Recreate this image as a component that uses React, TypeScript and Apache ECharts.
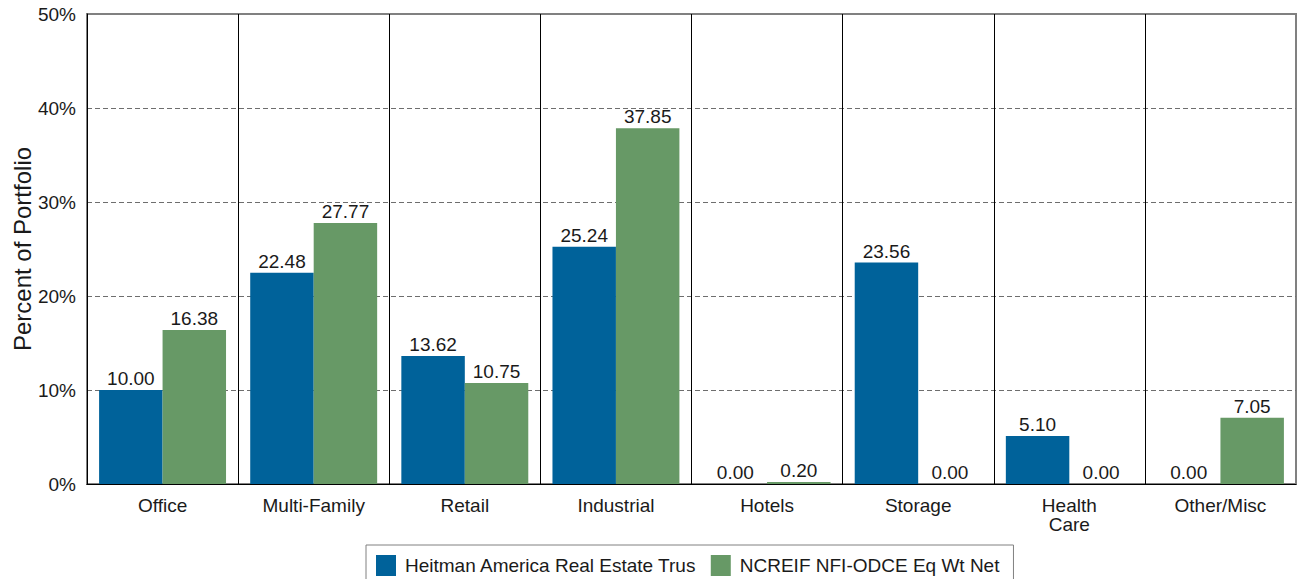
import React, { useEffect, useRef } from "react";
import * as echarts from "echarts";

const categories = ["Office", "Multi-Family", "Retail", "Industrial", "Hotels", "Storage", "Health Care", "Other/Misc"];
const heitmanName = "Heitman America Real Estate Trus";
const ncreifName = "NCREIF NFI-ODCE Eq Wt Net";
const heitmanValues = [10.0, 22.48, 13.62, 25.24, 0.0, 23.56, 5.1, 0.0];
const ncreifValues = [16.38, 27.77, 10.75, 37.85, 0.2, 0.0, 0.0, 7.05];
const yTicks = { min: 0, max: 50, interval: 10 };

const FONT = "'Liberation Sans', Arial, Helvetica, sans-serif";
const TEXT = "#1a1a1a";

export default function App() {
  const ref = useRef<HTMLDivElement>(null);
  useEffect(() => {
    if (!ref.current) return;
    const chart = echarts.init(ref.current, null, { renderer: "svg" });
    const label = {
      show: true,
      position: "top",
      distance: 2,
      color: TEXT,
      fontSize: 19,
      fontFamily: FONT,
      formatter: (p: any) => Number(p.value).toFixed(2),
    };
    const sepColors = categories.map(() => "#000000").concat(["#808080"]);
    chart.setOption({
      animation: false,
      backgroundColor: "#ffffff",
      textStyle: { fontFamily: FONT, color: TEXT },
      grid: {
        left: 87,
        top: 14,
        width: 1209,
        height: 470,
        show: true,
        containLabel: false,
        outerBoundsMode: "none",
        borderColor: "#808080",
        borderWidth: 2,
        backgroundColor: "transparent",
      },
      legend: {
        left: 366,
        top: 545,
        padding: [10, 14, 10, 10],
        itemWidth: 20,
        itemHeight: 21,
        itemGap: 14,
        borderColor: "#808080",
        borderWidth: 1,
        icon: "rect",
        textStyle: { fontSize: 19, color: TEXT, fontFamily: FONT, padding: [0, 0, 0, 4] },
        data: [heitmanName, ncreifName],
      },
      xAxis: {
        type: "category",
        data: categories,
        axisLine: { show: true, lineStyle: { color: "#000000", width: 1 } },
        axisTick: { show: false },
        splitLine: { show: true, interval: 0, lineStyle: { color: sepColors, width: 1 } },
        axisLabel: {
          interval: 0,
          margin: 12,
          fontSize: 19,
          lineHeight: 19,
          color: TEXT,
          fontFamily: FONT,
          formatter: (v: string) => v.replace(" ", "\n"),
        },
      },
      yAxis: {
        type: "value",
        min: yTicks.min,
        max: yTicks.max,
        interval: yTicks.interval,
        name: "Percent of Portfolio",
        nameLocation: "middle",
        nameGap: 53,
        nameMoveOverlap: false,
        nameTextStyle: { fontSize: 24, color: TEXT, fontFamily: FONT },
        axisLine: { show: true, lineStyle: { color: "#000000", width: 1 } },
        axisTick: { show: false },
        axisLabel: { formatter: "{value}%", fontSize: 19, color: TEXT, fontFamily: FONT, margin: 11 },
        splitLine: {
          show: true,
          showMinLine: false,
          showMaxLine: false,
          lineStyle: { color: "#6e6e6e", type: [5, 3], width: 1 },
        },
      },
      series: [
        {
          name: heitmanName,
          type: "bar",
          data: heitmanValues,
          barGap: "0%",
          barCategoryGap: "16%",
          itemStyle: { color: "#00629a" },
          label,
        },
        {
          name: ncreifName,
          type: "bar",
          data: ncreifValues,
          barGap: "0%",
          barCategoryGap: "16%",
          itemStyle: { color: "#679966" },
          label,
        },
      ],
    });
    return () => chart.dispose();
  }, []);
  return <div ref={ref} style={{ position: "absolute", left: 0, top: 0, width: 1303, height: 579 }} />;
}
